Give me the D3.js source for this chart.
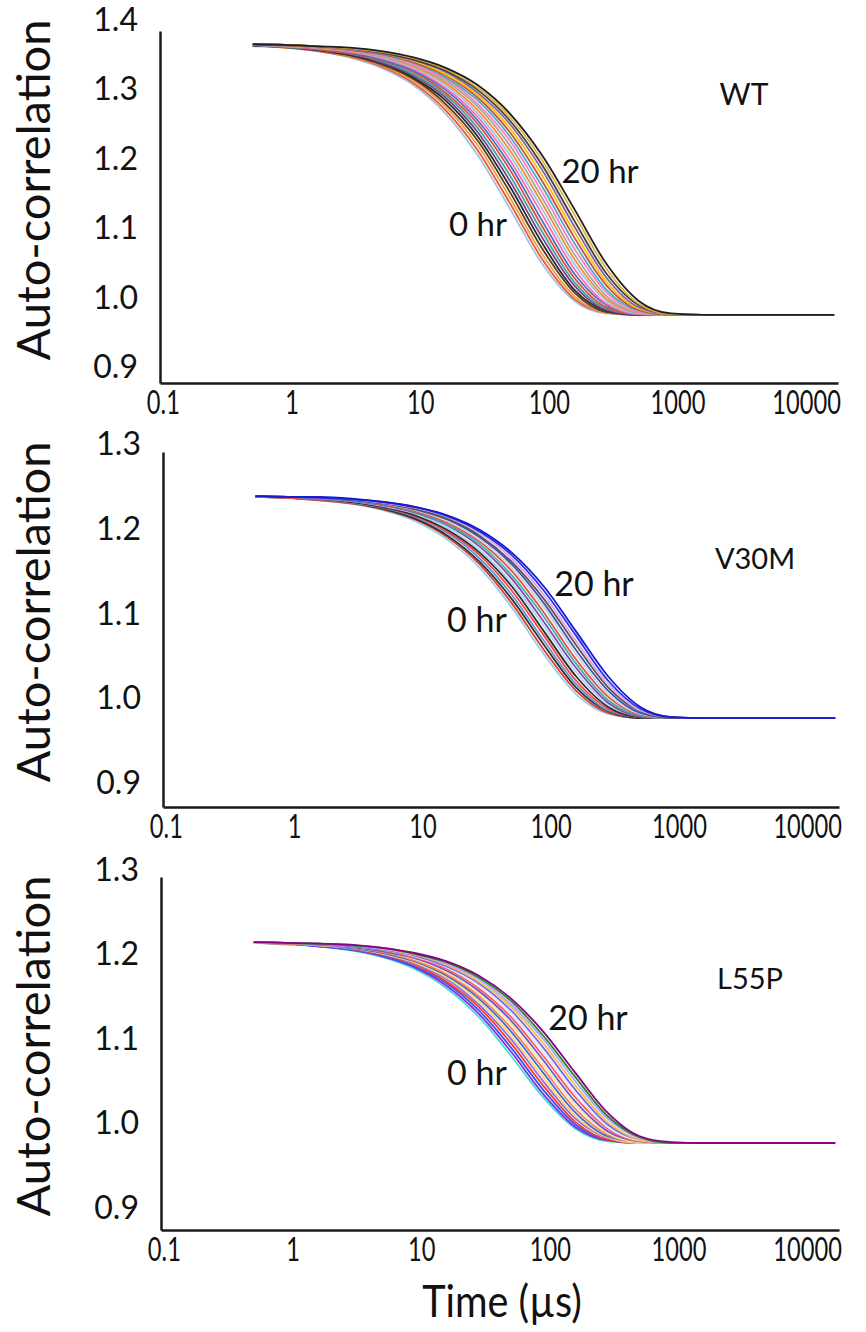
<!DOCTYPE html>
<html>
<head>
<meta charset="utf-8">
<script src="https://cdn.jsdelivr.net/npm/d3@7"></script>
<style>
  body { margin: 0; background: #fff; }
  text { font-family: Lato, "Open Sans", sans-serif; fill: #111; }
</style>
</head>
<body>
<script>
// lag times (µs) shared by every curve
const times = [0.5, 0.889, 1.581, 2.812, 5, 8.891, 15.81, 28.12, 50, 88.91, 158.1, 281.2, 500, 889.1, 1581, 16500];

const xTicks = [0.1, 1, 10, 100, 1000, 10000];
const xTickLabels = ["0.1", "1", "10", "100", "1000", "10000"];
const wtTicks = [0.9, 1.0, 1.1, 1.2, 1.3, 1.4];
const mutTicks = [0.9, 1.0, 1.1, 1.2, 1.3];
const panelNames = ["WT", "V30M", "L55P"];

// auto-correlation, one row per time point (0 hr -> 20 hr)
const wtCurves = [
  [1.362,1.360,1.355,1.346,1.331,1.306,1.265,1.205,1.128,1.049,0.996,0.978,0.976,0.976,0.976,0.976],
  [1.363,1.360,1.355,1.347,1.333,1.309,1.270,1.212,1.136,1.056,0.999,0.979,0.976,0.976,0.976,0.976],
  [1.363,1.360,1.356,1.348,1.335,1.312,1.275,1.219,1.144,1.063,1.003,0.979,0.976,0.976,0.976,0.976],
  [1.363,1.361,1.356,1.349,1.336,1.315,1.279,1.226,1.152,1.071,1.008,0.980,0.976,0.976,0.976,0.976],
  [1.363,1.361,1.357,1.350,1.338,1.317,1.284,1.232,1.160,1.079,1.012,0.982,0.976,0.976,0.976,0.976],
  [1.363,1.361,1.357,1.351,1.339,1.320,1.288,1.238,1.168,1.087,1.018,0.983,0.976,0.976,0.976,0.976],
  [1.364,1.361,1.358,1.352,1.341,1.322,1.292,1.244,1.176,1.095,1.023,0.985,0.977,0.976,0.976,0.976],
  [1.364,1.362,1.358,1.352,1.342,1.325,1.295,1.250,1.184,1.103,1.029,0.987,0.977,0.976,0.976,0.976],
  [1.364,1.362,1.359,1.353,1.343,1.327,1.299,1.255,1.191,1.111,1.035,0.990,0.977,0.976,0.976,0.976],
  [1.364,1.362,1.359,1.354,1.345,1.329,1.302,1.260,1.198,1.120,1.042,0.992,0.977,0.976,0.976,0.976],
  [1.364,1.362,1.360,1.355,1.346,1.331,1.306,1.265,1.205,1.128,1.049,0.996,0.978,0.976,0.976,0.976],
  [1.364,1.363,1.360,1.355,1.347,1.333,1.309,1.270,1.212,1.136,1.056,0.999,0.979,0.976,0.976,0.976],
  [1.364,1.363,1.360,1.356,1.348,1.335,1.312,1.275,1.219,1.144,1.063,1.003,0.979,0.976,0.976,0.976],
  [1.364,1.363,1.361,1.356,1.349,1.336,1.315,1.279,1.226,1.152,1.071,1.008,0.980,0.976,0.976,0.976],
  [1.364,1.363,1.361,1.357,1.350,1.338,1.317,1.284,1.232,1.160,1.079,1.012,0.982,0.976,0.976,0.976],
  [1.364,1.363,1.361,1.357,1.351,1.339,1.320,1.288,1.238,1.168,1.087,1.018,0.983,0.976,0.976,0.976],
  [1.364,1.364,1.361,1.358,1.352,1.341,1.322,1.292,1.244,1.176,1.095,1.023,0.985,0.977,0.976,0.976],
  [1.365,1.364,1.362,1.358,1.352,1.342,1.325,1.295,1.250,1.184,1.103,1.029,0.987,0.977,0.976,0.976],
  [1.365,1.364,1.362,1.359,1.353,1.343,1.327,1.299,1.255,1.191,1.111,1.035,0.990,0.977,0.976,0.976],
  [1.365,1.364,1.362,1.359,1.354,1.345,1.329,1.302,1.260,1.198,1.120,1.042,0.992,0.977,0.976,0.976],
  [1.365,1.364,1.362,1.360,1.355,1.346,1.331,1.306,1.265,1.205,1.128,1.049,0.996,0.978,0.976,0.976]
];

const v30mCurves = [
  [1.238,1.237,1.234,1.230,1.222,1.209,1.187,1.154,1.107,1.052,1.005,0.982,0.977,0.977,0.977,0.977],
  [1.238,1.237,1.234,1.230,1.223,1.211,1.190,1.158,1.112,1.057,1.009,0.983,0.977,0.977,0.977,0.977],
  [1.238,1.237,1.235,1.231,1.224,1.212,1.192,1.161,1.117,1.063,1.013,0.985,0.977,0.977,0.977,0.977],
  [1.238,1.237,1.235,1.231,1.225,1.214,1.195,1.165,1.122,1.068,1.017,0.986,0.978,0.977,0.977,0.977],
  [1.238,1.237,1.235,1.232,1.226,1.215,1.197,1.169,1.127,1.074,1.021,0.988,0.978,0.977,0.977,0.977],
  [1.238,1.238,1.236,1.232,1.226,1.216,1.199,1.172,1.132,1.079,1.026,0.990,0.978,0.977,0.977,0.977],
  [1.238,1.238,1.236,1.233,1.227,1.218,1.201,1.175,1.136,1.085,1.031,0.993,0.979,0.977,0.977,0.977],
  [1.238,1.238,1.236,1.233,1.228,1.219,1.204,1.179,1.141,1.090,1.036,0.995,0.979,0.977,0.977,0.977],
  [1.239,1.238,1.236,1.233,1.229,1.220,1.205,1.182,1.145,1.096,1.041,0.998,0.980,0.977,0.977,0.977],
  [1.239,1.238,1.237,1.234,1.229,1.221,1.207,1.185,1.150,1.101,1.046,1.002,0.981,0.977,0.977,0.977],
  [1.239,1.238,1.237,1.234,1.230,1.222,1.209,1.187,1.154,1.107,1.052,1.005,0.982,0.977,0.977,0.977],
  [1.239,1.238,1.237,1.234,1.230,1.223,1.211,1.190,1.158,1.112,1.057,1.009,0.983,0.977,0.977,0.977],
  [1.239,1.238,1.237,1.235,1.231,1.224,1.212,1.192,1.161,1.117,1.063,1.013,0.985,0.977,0.977,0.977],
  [1.239,1.238,1.237,1.235,1.231,1.225,1.214,1.195,1.165,1.122,1.068,1.017,0.986,0.978,0.977,0.977],
  [1.239,1.238,1.237,1.235,1.232,1.226,1.215,1.197,1.169,1.127,1.074,1.021,0.988,0.978,0.977,0.977],
  [1.239,1.238,1.238,1.236,1.232,1.226,1.216,1.199,1.172,1.132,1.079,1.026,0.990,0.978,0.977,0.977]
];

const l55pCurves = [
  [1.214,1.212,1.210,1.205,1.197,1.183,1.160,1.126,1.080,1.031,0.994,0.979,0.977,0.977,0.977,0.977],
  [1.214,1.213,1.210,1.206,1.198,1.185,1.163,1.130,1.085,1.035,0.996,0.980,0.977,0.977,0.977,0.977],
  [1.214,1.213,1.210,1.206,1.199,1.186,1.166,1.134,1.090,1.040,0.999,0.981,0.977,0.977,0.977,0.977],
  [1.214,1.213,1.211,1.207,1.200,1.188,1.168,1.138,1.095,1.045,1.002,0.981,0.977,0.977,0.977,0.977],
  [1.214,1.213,1.211,1.207,1.201,1.189,1.171,1.141,1.100,1.050,1.006,0.983,0.977,0.977,0.977,0.977],
  [1.214,1.213,1.211,1.208,1.201,1.191,1.173,1.145,1.104,1.055,1.009,0.984,0.977,0.977,0.977,0.977],
  [1.215,1.213,1.212,1.208,1.202,1.192,1.175,1.148,1.109,1.060,1.013,0.985,0.978,0.977,0.977,0.977],
  [1.215,1.213,1.212,1.209,1.203,1.193,1.177,1.151,1.113,1.065,1.017,0.987,0.978,0.977,0.977,0.977],
  [1.215,1.214,1.212,1.209,1.204,1.195,1.179,1.154,1.118,1.070,1.022,0.989,0.978,0.977,0.977,0.977],
  [1.215,1.214,1.212,1.209,1.204,1.196,1.181,1.157,1.122,1.075,1.026,0.991,0.979,0.977,0.977,0.977],
  [1.215,1.214,1.212,1.210,1.205,1.197,1.183,1.160,1.126,1.080,1.031,0.994,0.979,0.977,0.977,0.977],
  [1.215,1.214,1.213,1.210,1.206,1.198,1.185,1.163,1.130,1.085,1.035,0.996,0.980,0.977,0.977,0.977],
  [1.215,1.214,1.213,1.210,1.206,1.199,1.186,1.166,1.134,1.090,1.040,0.999,0.981,0.977,0.977,0.977],
  [1.215,1.214,1.213,1.211,1.207,1.200,1.188,1.168,1.138,1.095,1.045,1.002,0.981,0.977,0.977,0.977],
  [1.215,1.214,1.213,1.211,1.207,1.201,1.189,1.171,1.141,1.100,1.050,1.006,0.983,0.977,0.977,0.977],
  [1.215,1.214,1.213,1.211,1.208,1.201,1.191,1.173,1.145,1.104,1.055,1.009,0.984,0.977,0.977,0.977],
  [1.215,1.214,1.213,1.212,1.208,1.202,1.192,1.175,1.148,1.109,1.060,1.013,0.985,0.978,0.977,0.977]
];

const wtColors = ["#9dc3e6","#f0543c","#e8a33a","#5b3a29","#2b2b2b","#7b3f8c","#3fa7a3","#e34a33","#4472c4",
  "#ff69b4","#9dc3e6","#f28e2b","#a5a5a5","#ff7fbf","#4bacc6","#c0504d","#ffc000","#8064a2","#404040","#e0b040","#1e1e1e"];
const v30mColors = ["#8fd0f0","#e03c31","#333333","#5b9bd5","#ff4040","#2e2e2e","#a0d8ef","#8e44ad",
  "#40b0a6","#d9534f","#d0d0d0","#3f51b5","#555555","#e8a0e0","#2233ee","#1a1acc"];
const l55pColors = ["#40e0d0","#8a2be2","#3355ff","#ff3b1f","#9370db","#ffd966","#4169e1","#ff7f50",
  "#f5e6a8","#6a5acd","#ff5c5c","#e6e6fa","#7b68ee","#f0c040","#b0a0ff","#228b22","#8b008b"];

const svg = d3.select('body').append('svg')
  .attr('width', 866)
  .attr('height', 1332);

svg.append('rect').attr('width', 866).attr('height', 1332).attr('fill', '#fff');

const panels = [
  {curves: wtCurves, colors: wtColors, ticks: wtTicks, name: panelNames[0],
   left: 160, right: 838, top: 31, bottom: 383, yDomain: [0.878, 1.384],
   nameAt: [744, 93], hr20: [600, 170], hr0: [478, 223], titleY: 190, arial: true},
  {curves: v30mCurves, colors: v30mColors, ticks: mutTicks, name: panelNames[1],
   left: 163, right: 839, top: 452, bottom: 807, yDomain: [0.872, 1.291],
   nameAt: [755, 557], hr20: [594, 582], hr0: [477, 618], titleY: 612, arial: false},
  {curves: l55pCurves, colors: l55pColors, ticks: mutTicks, name: panelNames[2],
   left: 161, right: 839, top: 877, bottom: 1230, yDomain: [0.874, 1.292],
   nameAt: [750, 977], hr20: [588, 1016], hr0: [477, 1071], titleY: 1046, arial: false}
];

panels.forEach(p => {
  const x = d3.scaleLog()
    .domain([0.095, 17700])
    .range([p.left, p.right]);
  const y = d3.scaleLinear()
    .domain(p.yDomain)
    .range([p.bottom, p.top]);

  const line = d3.line()
    .x(d => x(d[0]))
    .y(d => y(d[1]))
    .curve(d3.curveMonotoneX);

  const g = svg.append('g');

  // curves
  g.append('g')
    .selectAll('path')
    .data(p.curves)
    .join('path')
      .attr('fill', 'none')
      .attr('stroke', (d, i) => p.colors[i % p.colors.length])
      .attr('stroke-width', 1.8)
      .attr('stroke-linejoin', 'round')
      .attr('d', d => line(times.map((t, i) => [t, d[i]])));

  // axes
  g.append('g')
    .attr('transform', `translate(${p.left},0)`)
    .call(d3.axisLeft(y).tickValues(p.ticks).tickFormat(d3.format('.1f')).tickSize(0).tickSizeOuter(0).tickPadding(22))
    .call(a => a.select('.domain').attr('stroke', '#1a1a1a').attr('stroke-width', 2.5))
    .call(a => a.selectAll('text').attr('font-size', 32).attr('font-family', 'Lato, sans-serif').attr('fill', '#111'));

  g.append('g')
    .attr('transform', `translate(0,${p.bottom})`)
    .call(d3.axisBottom(x).tickValues(xTicks).tickFormat((d, i) => xTickLabels[i]).tickSize(0).tickSizeOuter(0))
    .call(a => a.select('.domain').attr('stroke', '#1a1a1a').attr('stroke-width', 2.5))
    .call(a => a.selectAll('text')
      .attr('y', 20)
      .attr('dy', '0.35em')
      .attr('font-size', 32)
      .attr('font-family', 'Lato, sans-serif')
      .attr('fill', '#111')
      .attr('transform', 'scale(0.74,1)'));

  // y title
  g.append('text')
    .attr('transform', `translate(32,${p.titleY}) rotate(-90)`)
    .attr('text-anchor', 'middle')
    .attr('dominant-baseline', 'central')
    .attr('font-size', 47)
    .text('Auto-correlation');

  const fam = p.arial ? '"Liberation Sans", Arial, sans-serif' : 'Lato, sans-serif';
  g.append('text')
    .attr('x', p.nameAt[0]).attr('y', p.nameAt[1])
    .attr('text-anchor', 'middle').attr('dominant-baseline', 'central')
    .attr('font-family', fam).attr('font-size', p.arial ? 30 : 29)
    .text(p.name);
  g.append('text')
    .attr('x', p.hr20[0]).attr('y', p.hr20[1])
    .attr('text-anchor', 'middle').attr('dominant-baseline', 'central')
    .attr('font-family', fam).attr('font-size', p.arial ? 33 : 34)
    .text('20 hr');
  g.append('text')
    .attr('x', p.hr0[0]).attr('y', p.hr0[1])
    .attr('text-anchor', 'middle').attr('dominant-baseline', 'central')
    .attr('font-family', fam).attr('font-size', p.arial ? 33 : 34)
    .text('0 hr');
});

svg.append('text')
  .attr('x', 502).attr('y', 1300)
  .attr('text-anchor', 'middle')
  .attr('dominant-baseline', 'central')
  .attr('font-size', 44)
  .attr('transform', 'translate(502,0) scale(0.9,1) translate(-502,0)')
  .text('Time (µs)');
</script>
</body>
</html>
